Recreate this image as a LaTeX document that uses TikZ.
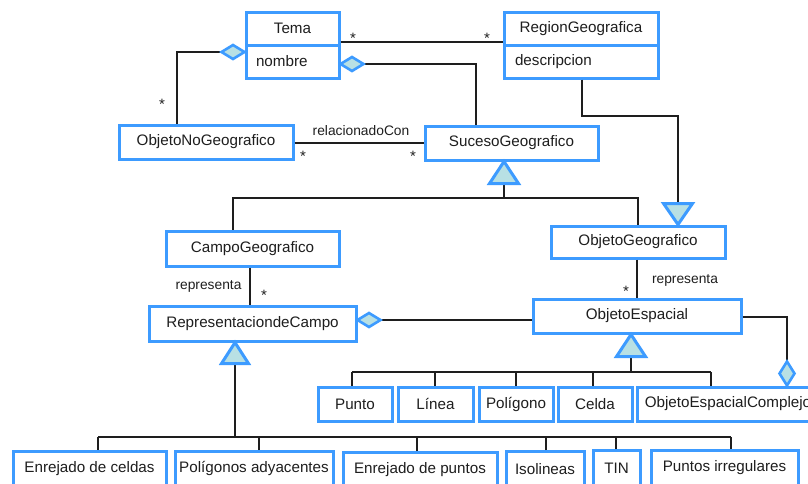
\documentclass[tikz,border=0pt]{standalone}
\usepackage{fontspec}
\setmainfont{Liberation Sans}
\definecolor{clsblue}{HTML}{3D9BFF}
\definecolor{tfill}{HTML}{B8E0E4}
\definecolor{ink}{HTML}{1E1E1E}
\begin{document}
\begin{tikzpicture}[x=1pt,y=-1pt,
  cls/.style={draw=clsblue, line width=3pt, fill=white, inner sep=2pt, text=ink,
              font=\fontsize{15.2}{18}\selectfont},
  attr/.style={cls, align=left, inner xsep=10pt},
  conn/.style={draw=ink, line width=1.3pt},
  gen/.style={draw=clsblue, fill=tfill, line width=3pt, line join=miter},
  agg/.style={draw=clsblue, fill=tfill, line width=2.6pt, line join=miter},
  lbl/.style={text=ink, inner sep=0pt, font=\fontsize{13.8}{16}\selectfont},
  mult/.style={text=ink, inner sep=0pt, font=\fontsize{15}{16}\selectfont}]
\path[use as bounding box] (0,0) rectangle (808,483);
\clip (0,0) rectangle (808,483);

% ---------- classes ----------
\node[cls, minimum width=93pt, minimum height=33pt] (temaH) at (292.5,28.5) {Tema};
\node[attr, text width=73pt, minimum width=93pt, minimum height=33pt] (temaA) at (292.5,61.5) {nombre};
\node[cls, minimum width=154pt, minimum height=33pt] (regH) at (581,28.5) {RegionGeografica};
\node[attr, inner xsep=11pt, text width=132pt, minimum width=154pt, minimum height=33pt] (regA) at (581,61.5) {descripcion};

\node[cls, minimum width=174pt, minimum height=34pt] (nogeo) at (206,142) {ObjetoNoGeografico};
\node[cls, minimum width=173pt, minimum height=34pt] (suceso) at (511.5,143) {SucesoGeografico};
\node[cls, minimum width=173pt, minimum height=35pt] (campo) at (252.5,248.5) {CampoGeografico};
\node[cls, minimum width=174pt, minimum height=32pt] (objgeo) at (638,242) {ObjetoGeografico};
\node[cls, minimum width=207pt, minimum height=35pt] (repr) at (252.5,323.5) {RepresentaciondeCampo};
\node[cls, minimum width=208pt, minimum height=34pt] (objesp) at (637,316) {ObjetoEspacial};

\node[cls, minimum width=74pt, minimum height=34pt] (punto) at (355,404) {Punto};
\node[cls, minimum width=75pt, minimum height=34pt] (linea) at (435.5,404) {Línea};
\node[cls, minimum width=74pt, minimum height=34pt] (poli) at (516,404) {Polígono};
\node[cls, minimum width=74pt, minimum height=34pt] (celda) at (595,404) {Celda};
\node[cls, minimum width=182pt, minimum height=34pt] (compl) at (728,404) {ObjetoEspacialComplejo};

\node[cls, minimum width=153pt, minimum height=35pt] (encel) at (89.5,468.5) {Enrejado de celdas};
\node[cls, minimum width=158pt, minimum height=35pt] (poliad) at (254,468.5) {Polígonos adyacentes};
\node[cls, minimum width=154pt, minimum height=35pt] (enpun) at (420,470) {Enrejado de puntos};
\node[cls, minimum width=78pt, minimum height=35pt] (iso) at (545,469) {Isolineas};
\node[cls, minimum width=47pt, minimum height=35pt] (tin) at (616.5,468) {TIN};
\node[cls, minimum width=147pt, minimum height=35pt] (pirr) at (724.5,468) {Puntos irregulares};

% ---------- associations ----------
\draw[conn] (temaH.east |- 0,42) -- (regH.west |- 0,42);
\node[mult] (m1) at (353,38) {*};
\node[mult] (m2) at (487,38) {*};

% aggregation Tema - ObjetoNoGeografico
\coordinate (d1) at (temaA.west |- 0,52);
\draw[conn] ([xshift=-23pt]d1) -- (177,52) -- (nogeo.north -| 177,0);
\filldraw[agg] (d1) -- ++(-11.5,-7) -- ++(-11.5,7) -- ++(11.5,7) -- cycle;
\node[mult] (m3) at (162,104) {*};

% aggregation Tema - SucesoGeografico
\coordinate (d2) at (temaA.east |- 0,64);
\draw[conn] ([xshift=23pt]d2) -- (476,64) -- (suceso.north -| 476,0);
\filldraw[agg] (d2) -- ++(11.5,-7) -- ++(11.5,7) -- ++(-11.5,7) -- cycle;

% relacionadoCon
\draw[conn] (nogeo.east |- 0,143) -- (suceso.west |- 0,143);
\node[lbl] (rc) at (361,130.5) {relacionadoCon};
\node[mult] (m4) at (303,156) {*};
\node[mult] (m5) at (413,156) {*};

% generalization SucesoGeografico
\coordinate (g1) at (suceso.south -| 504,0);
\draw[conn] (504,182) -- (504,198);
\draw[conn] (campo.north -| 233,0) -- (233,198) -- (638,198) -- (objgeo.north -| 638,0);
\filldraw[gen] (g1) -- ++(-14.5,22) -- ++(29,0) -- cycle;

% generalization RegionGeografica -> ObjetoGeografico
\coordinate (g2) at (objgeo.north -| 678,0);
\draw[conn] (regA.south -| 582,0) -- (582,116) -- (678,116) -- (678,205);
\filldraw[gen] (g2) -- ++(-14.5,-21) -- ++(29,0) -- cycle;

% representa (campo)
\draw[conn] (campo.south -| 250,0) -- (repr.north -| 250,0);
\node[lbl] (rp1) at (208.5,286) {representa};
\node[mult] (m6) at (264,295) {*};

% representa (objeto geografico)
\draw[conn] (objgeo.south -| 637,0) -- (objesp.north -| 637,0);
\node[lbl] (rp2) at (685,280) {representa};
\node[mult] (m7) at (626,291) {*};

% aggregation Representacion - ObjetoEspacial
\coordinate (d3) at (repr.east |- 0,320);
\draw[conn] ([xshift=23pt]d3) -- (objesp.west |- 0,320);
\filldraw[agg] (d3) -- ++(11.5,-7) -- ++(11.5,7) -- ++(-11.5,7) -- cycle;

% generalization ObjetoEspacial
\coordinate (g3) at (objesp.south -| 631,0);
\draw[conn] (631,355) -- (631,372);
\draw[conn] (352,372) -- (711,372);
\draw[conn] (punto.north -| 352,0) -- (352,372);
\draw[conn] (linea.north -| 435,0) -- (435,372);
\draw[conn] (poli.north -| 516,0) -- (516,372);
\draw[conn] (celda.north -| 593,0) -- (593,372);
\draw[conn] (compl.north -| 711,0) -- (711,372);
\filldraw[gen] (g3) -- ++(-14.5,22) -- ++(29,0) -- cycle;

% aggregation ObjetoEspacialComplejo - ObjetoEspacial
\coordinate (d4) at (compl.north -| 787,0);
\draw[conn] (objesp.east |- 0,317) -- (787,317) -- ([yshift=24pt]d4);
\filldraw[agg] (d4) -- ++(-7.5,-12) -- ++(7.5,-12) -- ++(7.5,12) -- cycle;

% generalization RepresentaciondeCampo
\coordinate (g4) at (repr.south -| 235,0);
\draw[conn] (235,362) -- (235,437);
\draw[conn] (98,437) -- (731,437);
\draw[conn] (encel.north -| 98,0) -- (98,437);
\draw[conn] (poliad.north -| 259,0) -- (259,437);
\draw[conn] (enpun.north -| 417,0) -- (417,437);
\draw[conn] (iso.north -| 546,0) -- (546,437);
\draw[conn] (tin.north -| 616,0) -- (616,437);
\draw[conn] (pirr.north -| 731,0) -- (731,437);
\filldraw[gen] (g4) -- ++(-13.5,21) -- ++(27,0) -- cycle;
\end{tikzpicture}
\end{document}
